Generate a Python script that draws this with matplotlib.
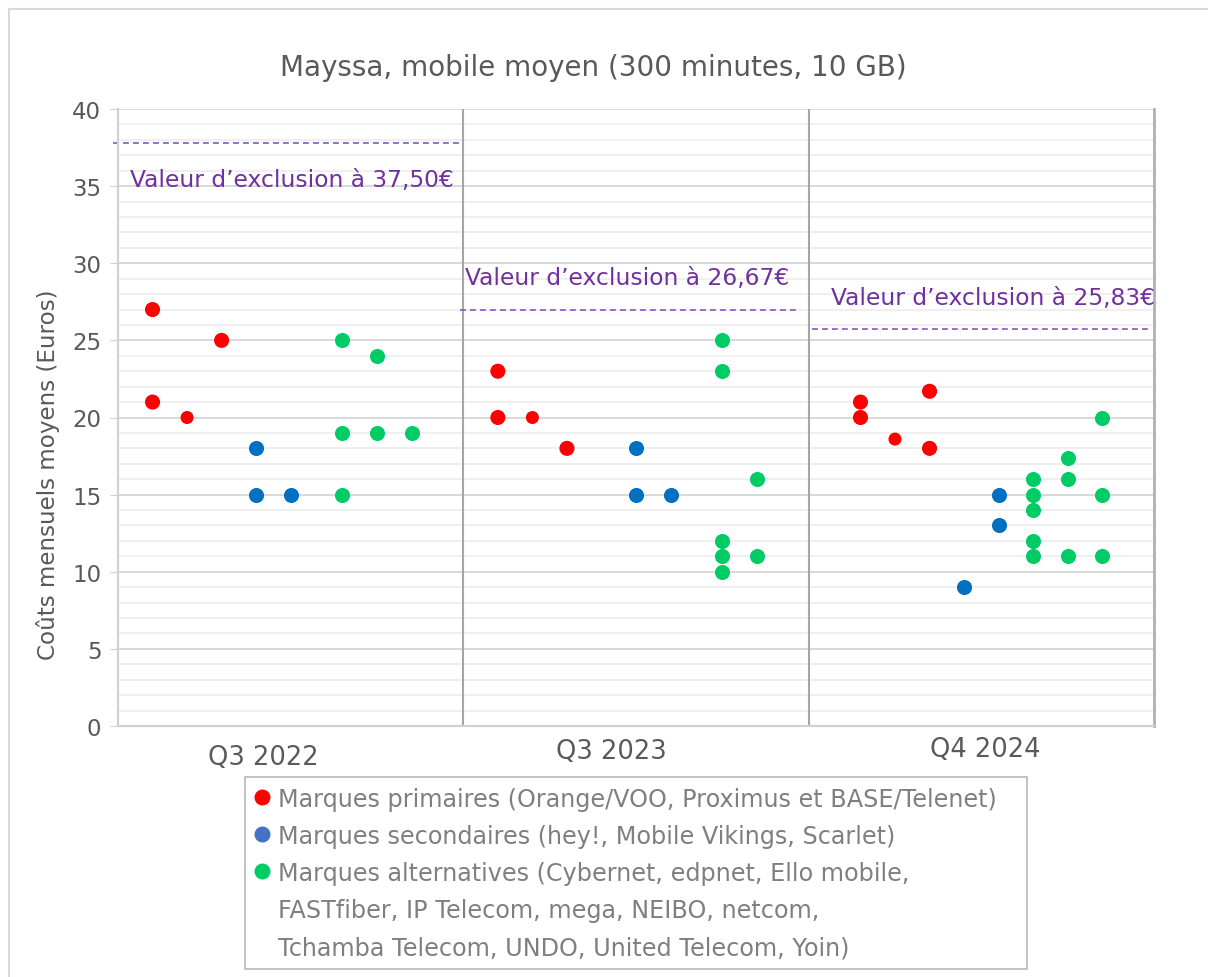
import matplotlib
matplotlib.use("Agg")
import matplotlib.pyplot as plt
from matplotlib.lines import Line2D
from matplotlib.patches import Rectangle
from matplotlib.ticker import MultipleLocator

plt.rcParams["font.family"] = ["DejaVu Sans"]

# --- data (x = position along the three quarter blocks, 10 units each) ---
primaires_x = [1, 1, 2, 3, 11, 11, 12, 13, 21.5, 21.5, 22.5, 23.5, 23.5]
primaires_y = [27, 21, 20, 25, 23, 20, 20, 18, 21, 20, 18.6, 21.7, 18]
primaires_small = [False, False, True, False, False, False, True, False,
                   False, False, True, False, False]

secondaires_x = [4, 4, 5, 15, 15, 16, 24.5, 25.5, 25.5]
secondaires_y = [18, 15, 15, 18, 15, 15, 9, 15, 13]

alternatives_x = [6.5, 6.5, 6.5, 7.5, 7.5, 8.5,
                  17.5, 17.5, 17.5, 17.5, 17.5, 18.5, 18.5,
                  26.5, 26.5, 26.5, 26.5, 26.5, 27.5, 27.5, 27.5, 28.5, 28.5, 28.5]
alternatives_y = [25, 19, 15, 24, 19, 19,
                  25, 23, 12, 11, 10, 16, 11,
                  16, 15, 14, 12, 11, 17.4, 16, 11, 20, 15, 11]

quarters = ["Q3 2022", "Q3 2023", "Q4 2024"]
quarter_label_x = [4.2, 14.3, 25.1]
quarter_label_y = [-2.0, -1.6, -1.5]

exclusion_labels = ["Valeur d\u2019exclusion à 37,50€",
                    "Valeur d\u2019exclusion à 26,67€",
                    "Valeur d\u2019exclusion à 25,83€"]
exclusion_line_y = [37.8, 26.95, 25.75]
exclusion_span = [(-0.15, 10.0), (9.9, 19.7), (20.1, 29.9)]
exclusion_text_xy = [(5.04, 35.4), (14.74, 29.1), (25.35, 27.8)]

legend_labels = ["Marques primaires (Orange/VOO, Proximus et BASE/Telenet)",
                 "Marques secondaires (hey!, Mobile Vikings, Scarlet)",
                 "Marques alternatives (Cybernet, edpnet, Ello mobile,",
                 "FASTfiber, IP Telecom, mega, NEIBO, netcom,",
                 "Tchamba Telecom, UNDO, United Telecom, Yoin)"]

RED = "#ff0000"
BLUE = "#0070c0"
GREEN = "#00cc66"
PURPLE = "#7030a0"
GREY_TXT = "#595959"

fig = plt.figure(figsize=(12.08, 9.78), dpi=100)
ax = fig.add_axes([118 / 1208, 1 - 727 / 978, 1036 / 1208, 617 / 978])

# outer chart border
fig.add_artist(Rectangle((9 / 1208, -0.1), 1.2, 0.1 + 1 - 10 / 978,
                         transform=fig.transFigure, fill=False,
                         edgecolor="#d9d9d9", lw=1.5))

# points
sizes = [88 if s else 118 for s in primaires_small]
ax.scatter(primaires_x, primaires_y, s=sizes, color=RED, zorder=3, lw=0)
ax.scatter(secondaires_x, secondaires_y, s=118, color=BLUE, zorder=3, lw=0)
ax.scatter(alternatives_x, alternatives_y, s=118, color=GREEN, zorder=3, lw=0)

# axes / grid
ax.set_xlim(0, 30)
ax.set_ylim(0, 40)
ax.yaxis.set_major_locator(MultipleLocator(5))
ax.yaxis.set_minor_locator(MultipleLocator(1))
ax.grid(axis="y", which="major", color="#d9d9d9", lw=1.4, zorder=0)
ax.grid(axis="y", which="minor", color="#efefef", lw=1.4, zorder=0)
ax.set_axisbelow(True)
ax.set_xticks([])
ax.tick_params(axis="y", which="major", length=6, color="#d0d0d0",
               labelsize=16.5, labelcolor=GREY_TXT, pad=6)
ax.tick_params(axis="y", which="minor", length=0)
ax.spines["top"].set_visible(False)
ax.spines["left"].set_color("#d0d0d0")
ax.spines["left"].set_linewidth(1.5)
ax.spines["bottom"].set_color("#d0d0d0")
ax.spines["bottom"].set_linewidth(1.5)
ax.spines["right"].set_color("#b0b0b0")
ax.spines["right"].set_linewidth(2)

# quarter separators
for xs in [10, 20]:
    ax.axvline(xs, color="#a6a6a6", lw=1.5, zorder=1)

# exclusion thresholds
for yv, (x0, x1), (tx, ty), lab in zip(exclusion_line_y, exclusion_span,
                                       exclusion_text_xy, exclusion_labels):
    ax.plot([x0, x1], [yv, yv], color="#8a55bf", lw=1.2, ls=(0, (3.5, 2.5)),
            clip_on=False, zorder=2)
    ax.text(tx, ty, lab, color=PURPLE, fontsize=16.8, ha="center", va="center")

# quarter labels
for lx, ly, q in zip(quarter_label_x, quarter_label_y, quarters):
    ax.text(lx, ly, q, color=GREY_TXT, fontsize=18.5, ha="center", va="center",
            clip_on=False)

fig.text(48 / 1208, 1 - 475 / 978, "Coûts mensuels moyens (Euros)",
         fontsize=16.6, color=GREY_TXT, ha="center", va="center", rotation=90)
fig.text(593 / 1208, 1 - 68 / 978, "Mayssa, mobile moyen (300 minutes, 10 GB)",
         fontsize=20, color=GREY_TXT, ha="center", va="center")

# legend (continuation lines of the third entry get an empty handle)
handles = [Line2D([], [], ls="", marker="o", ms=10.5, color=RED),
           Line2D([], [], ls="", marker="o", ms=10.5, color="#4472c4"),
           Line2D([], [], ls="", marker="o", ms=10.5, color=GREEN),
           Line2D([], [], ls="", marker=""),
           Line2D([], [], ls="", marker="")]
leg = fig.legend(handles, legend_labels, loc="upper left",
                 bbox_to_anchor=(245 / 1208, 1 - 968 / 978,
                                 782 / 1208, 190 / 978),
                 mode="expand", frameon=True, fancybox=False, fontsize=17.2,
                 labelcolor="#7f7f7f", handlelength=0.6, handletextpad=0.4,
                 labelspacing=0.55, borderpad=0.4, borderaxespad=0)
leg.get_frame().set_edgecolor("#a6a6a6")
leg.get_frame().set_linewidth(1.2)

fig.savefig("out.png", dpi=100)
